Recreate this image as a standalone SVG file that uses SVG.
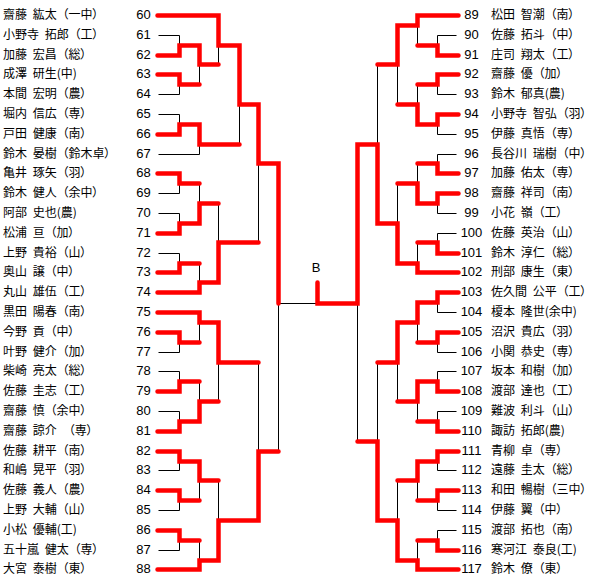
<svg xmlns="http://www.w3.org/2000/svg" width="592" height="585" viewBox="0 0 592 585">
<style>
.n{font-family:"Noto Sans CJK JP","Noto Sans CJK SC",sans-serif;font-size:12px;font-feature-settings:"palt";word-spacing:3px;fill:#000}
.num{font-family:"Liberation Sans",Arial,sans-serif;font-size:13px;text-anchor:middle;fill:#000}
.blk{fill:none;stroke:#000;stroke-width:1}
.red{fill:none;stroke:#ff0000;stroke-width:4.5;stroke-linecap:round;stroke-linejoin:miter}
</style>
<rect width="592" height="585" fill="#fff"/>
<g id="connectors" transform="translate(0.5,0.5)">
<path class="blk" d="M158 15H218M158 35H179M158 55H179M158 74H179M158 94H179M158 114H179M158 134H179M158 154H199M158 173H179M158 193H179M158 213H179M158 233H179M158 253H179M158 272H179M158 292H199M158 312H199M158 332H179M158 352H179M158 371H179M158 391H179M158 411H179M158 431H179M158 451H179M158 470H179M158 490H179M158 510H179M158 530H179M158 550H179M158 569H199
M179 35V55M179 45H199M179 74V94M179 84H199M179 114V134M179 124H199M179 173V193M179 183H199M179 213V233M179 223H199M179 253V272M179 263H199M179 332V352M179 342H199M179 371V391M179 381H199M179 411V431M179 421H199M179 451V470M179 461H199M179 490V510M179 500H199M179 530V550M179 540H199
M199 45V84M199 64H218M199 124V154M199 144H239M199 183V223M199 203H218M199 263V292M199 282H218M199 312V342M199 322H218M199 381V421M199 401H218M199 461V500M199 480H218M199 540V569M199 560H218
M218 15V64M218 45H239M218 203V282M218 242H258M218 322V401M218 362H258M218 480V560M218 520H258
M239 45V144M239 104H258M258 104V242M258 163H278M258 362V520M258 451H278M278 163V451M278 303H317"/>
<path class="blk" d="M456 15H417M456 35H437M456 55H437M456 74H437M456 94H437M456 114H437M456 134H437M456 154H437M456 173H437M456 193H437M456 213H437M456 233H437M456 253H437M456 272H417M456 292H437M456 312H437M456 332H437M456 352H437M456 371H437M456 391H437M456 411H437M456 431H437M456 451H437M456 470H437M456 490H437M456 510H437M456 530H437M456 550H437M456 569H417
M437 35V55M437 45H417M437 74V94M437 84H417M437 114V134M437 124H417M437 154V173M437 163H417M437 193V213M437 203H417M437 233V253M437 242H417M437 292V312M437 302H417M437 332V352M437 342H417M437 371V391M437 381H417M437 411V431M437 421H417M437 451V470M437 461H417M437 490V510M437 500H417M437 530V550M437 540H417
M417 15V45M417 25H397M417 84V124M417 104H397M417 163V203M417 183H397M417 242V272M417 263H397M417 302V342M417 322H397M417 381V421M417 401H397M417 461V500M417 480H397M417 540V569M417 560H397
M397 25V104M397 64H377M397 183V263M397 223H377M397 322V401M397 362H377M397 480V560M397 520H377
M377 64V223M377 144H357M377 362V520M377 441H357M357 144V441M357 303H317"/>
<path class="red" d="M157 15H218V45H239V104H258V163H278V303
M157 55H179V45H199V64H218
M157 74H179V84H199
M157 134H179V124H199V144H239
M157 173H179V183H199
M157 233H179V223H199V203H218
M157 272H179V263H199
M157 292H199V282H218V242H258
M157 312H199V322H218V362H258
M157 332H179V342H199
M157 391H179V381H199
M157 431H179V421H199V401H218
M157 451H179V461H199V480H218
M157 490H179V500H199
M157 530H179V540H199
M157 569H199V560H218V520H258V451H278"/>
<path class="red" d="M458 15H417V25H397V64H377
M458 55H437V45H417
M458 74H437V84H417
M458 114H437V124H417V104H397
M458 173H437V163H417
M458 193H437V203H417V183H397
M458 253H437V242H417
M458 272H417V263H397V223H377V144H357V303H317V282
M458 292H437V302H417V322H397V362H377
M458 332H437V342H417
M458 391H437V381H417V401H397
M458 431H437V421H417
M458 451H437V461H417V480H397
M458 490H437V500H417
M458 550H437V540H417
M458 569H417V560H397V520H377V441H357"/>
</g>
<text class="num" x="316" y="272">B</text>
<g id="p60"><text class="n" x="3" y="19">齋藤 紘太 （一中）</text><text class="num" x="143.5" y="19">60</text></g>
<g id="p61"><text class="n" x="3" y="39">小野寺 拓郎 （工）</text><text class="num" x="143.5" y="39">61</text></g>
<g id="p62"><text class="n" x="3" y="59">加藤 宏昌 （総）</text><text class="num" x="143.5" y="59">62</text></g>
<g id="p63"><text class="n" x="3" y="78">成澤 研生(中)</text><text class="num" x="143.5" y="78">63</text></g>
<g id="p64"><text class="n" x="3" y="98">本間 宏明 （農）</text><text class="num" x="143.5" y="98">64</text></g>
<g id="p65"><text class="n" x="3" y="118">堀内 信広 （専）</text><text class="num" x="143.5" y="118">65</text></g>
<g id="p66"><text class="n" x="3" y="138">戸田 健康 （南）</text><text class="num" x="143.5" y="138">66</text></g>
<g id="p67"><text class="n" x="3" y="158">鈴木 晏樹 （鈴木卓）</text><text class="num" x="143.5" y="158">67</text></g>
<g id="p68"><text class="n" x="3" y="177">亀井 琢矢 （羽）</text><text class="num" x="143.5" y="177">68</text></g>
<g id="p69"><text class="n" x="3" y="197">鈴木 健人 （余中）</text><text class="num" x="143.5" y="197">69</text></g>
<g id="p70"><text class="n" x="3" y="217">阿部 史也(農)</text><text class="num" x="143.5" y="217">70</text></g>
<g id="p71"><text class="n" x="3" y="237">松浦 亘 （加）</text><text class="num" x="143.5" y="237">71</text></g>
<g id="p72"><text class="n" x="3" y="257">上野 貴裕 （山）</text><text class="num" x="143.5" y="257">72</text></g>
<g id="p73"><text class="n" x="3" y="276">奥山 譲 （中）</text><text class="num" x="143.5" y="276">73</text></g>
<g id="p74"><text class="n" x="3" y="296">丸山 雄伍 （工）</text><text class="num" x="143.5" y="296">74</text></g>
<g id="p75"><text class="n" x="3" y="316">黒田 陽春 （南）</text><text class="num" x="143.5" y="316">75</text></g>
<g id="p76"><text class="n" x="3" y="336">今野 貢 （中）</text><text class="num" x="143.5" y="336">76</text></g>
<g id="p77"><text class="n" x="3" y="356">叶野 健介 （加）</text><text class="num" x="143.5" y="356">77</text></g>
<g id="p78"><text class="n" x="3" y="375">柴崎 亮太 （総）</text><text class="num" x="143.5" y="375">78</text></g>
<g id="p79"><text class="n" x="3" y="395">佐藤 圭志 （工）</text><text class="num" x="143.5" y="395">79</text></g>
<g id="p80"><text class="n" x="3" y="415">齋藤 慎 （余中）</text><text class="num" x="143.5" y="415">80</text></g>
<g id="p81"><text class="n" x="3" y="435">齋藤 諒介　（専）</text><text class="num" x="143.5" y="435">81</text></g>
<g id="p82"><text class="n" x="3" y="455">佐藤 耕平 （南）</text><text class="num" x="143.5" y="455">82</text></g>
<g id="p83"><text class="n" x="3" y="474">和嶋 晃平 （羽）</text><text class="num" x="143.5" y="474">83</text></g>
<g id="p84"><text class="n" x="3" y="494">佐藤 義人 （農）</text><text class="num" x="143.5" y="494">84</text></g>
<g id="p85"><text class="n" x="3" y="514">上野 大輔 （山）</text><text class="num" x="143.5" y="514">85</text></g>
<g id="p86"><text class="n" x="3" y="534">小松 優輔(工)</text><text class="num" x="143.5" y="534">86</text></g>
<g id="p87"><text class="n" x="3" y="554">五十嵐 健太 （専）</text><text class="num" x="143.5" y="554">87</text></g>
<g id="p88"><text class="n" x="3" y="573">大宮 泰樹 （東）</text><text class="num" x="143.5" y="573">88</text></g>
<g id="p89"><text class="num" x="471.5" y="19">89</text><text class="n" x="491" y="19">松田 智潮 （南）</text></g>
<g id="p90"><text class="num" x="471.5" y="39">90</text><text class="n" x="491" y="39">佐藤 拓斗 （中）</text></g>
<g id="p91"><text class="num" x="471.5" y="59">91</text><text class="n" x="491" y="59">庄司 翔太 （工）</text></g>
<g id="p92"><text class="num" x="471.5" y="78">92</text><text class="n" x="491" y="78">齋藤 優 （加）</text></g>
<g id="p93"><text class="num" x="471.5" y="98">93</text><text class="n" x="491" y="98">鈴木 郁真(農)</text></g>
<g id="p94"><text class="num" x="471.5" y="118">94</text><text class="n" x="491" y="118">小野寺 智弘 （羽）</text></g>
<g id="p95"><text class="num" x="471.5" y="138">95</text><text class="n" x="491" y="138">伊藤 真悟 （専）</text></g>
<g id="p96"><text class="num" x="471.5" y="158">96</text><text class="n" x="491" y="158">長谷川 瑞樹 （中）</text></g>
<g id="p97"><text class="num" x="471.5" y="177">97</text><text class="n" x="491" y="177">加藤 佑太 （専）</text></g>
<g id="p98"><text class="num" x="471.5" y="197">98</text><text class="n" x="491" y="197">齋藤 祥司 （南）</text></g>
<g id="p99"><text class="num" x="471.5" y="217">99</text><text class="n" x="491" y="217">小花 嶺 （工）</text></g>
<g id="p100"><text class="num" x="471.5" y="237">100</text><text class="n" x="491" y="237">佐藤 英治 （山）</text></g>
<g id="p101"><text class="num" x="471.5" y="257">101</text><text class="n" x="491" y="257">鈴木 淳仁 （総）</text></g>
<g id="p102"><text class="num" x="471.5" y="276">102</text><text class="n" x="491" y="276">刑部 康生 （東）</text></g>
<g id="p103"><text class="num" x="471.5" y="296">103</text><text class="n" x="491" y="296">佐久間 公平 （工）</text></g>
<g id="p104"><text class="num" x="471.5" y="316">104</text><text class="n" x="491" y="316">榎本 隆世(余中)</text></g>
<g id="p105"><text class="num" x="471.5" y="336">105</text><text class="n" x="491" y="336">沼沢 貴広 （羽）</text></g>
<g id="p106"><text class="num" x="471.5" y="356">106</text><text class="n" x="491" y="356">小関 恭史 （専）</text></g>
<g id="p107"><text class="num" x="471.5" y="375">107</text><text class="n" x="491" y="375">坂本 和樹 （加）</text></g>
<g id="p108"><text class="num" x="471.5" y="395">108</text><text class="n" x="491" y="395">渡部 達也 （工）</text></g>
<g id="p109"><text class="num" x="471.5" y="415">109</text><text class="n" x="491" y="415">難波 利斗 （山）</text></g>
<g id="p110"><text class="num" x="471.5" y="435">110</text><text class="n" x="491" y="435">諏訪 拓郎(農)</text></g>
<g id="p111"><text class="num" x="471.5" y="455">111</text><text class="n" x="491" y="455">青柳 卓 （専）</text></g>
<g id="p112"><text class="num" x="471.5" y="474">112</text><text class="n" x="491" y="474">遠藤 圭太 （総）</text></g>
<g id="p113"><text class="num" x="471.5" y="494">113</text><text class="n" x="491" y="494">和田 暢樹 （三中）</text></g>
<g id="p114"><text class="num" x="471.5" y="514">114</text><text class="n" x="491" y="514">伊藤 翼 （中）</text></g>
<g id="p115"><text class="num" x="471.5" y="534">115</text><text class="n" x="491" y="534">渡部 拓也 （南）</text></g>
<g id="p116"><text class="num" x="471.5" y="554">116</text><text class="n" x="491" y="554">寒河江 泰良(工)</text></g>
<g id="p117"><text class="num" x="471.5" y="573">117</text><text class="n" x="491" y="573">鈴木 僚 （東）</text></g>
</svg>
